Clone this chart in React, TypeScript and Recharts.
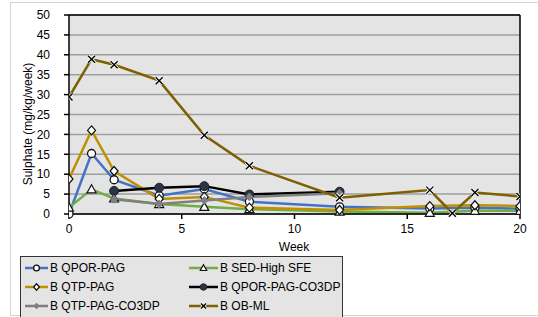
import React from 'react';
import { LineChart, Line, XAxis, YAxis, CartesianGrid, ReferenceLine } from 'recharts';

const weeksMain = [0, 1, 2, 4, 6, 8, 12, 16, 18, 20];
const qporPag = [0, 15.2, 8.6, 4.6, 6.3, 3.1, 1.8, 1.4, 1.6, 1.3];
const qtpPag = [8.8, 21, 10.8, 3.8, 4.3, 1.6, 1.0, 2.0, 2.2, 2.0];
const sedHighSfe = [1.6, 6.2, 3.9, 2.5, 1.8, 1.2, 0.6, 0.3, 0.8, 0.8];
const weeksCo3 = [2, 4, 6, 8, 12];
const qporPagCo3 = [5.8, 6.6, 7.0, 4.9, 5.6];
const qtpPagCo3 = [3.7, 2.5, 3.4, 4.3, 5.2];
const weeksOb = [0, 1, 2, 4, 6, 8, 12, 16, 17, 18, 20];
const obMl = [29.4, 38.9, 37.5, 33.5, 19.8, 12.1, 4.1, 6.0, 0.2, 5.4, 4.4];

const xTicks = [0, 5, 10, 15, 20];
const yTicks = [0, 5, 10, 15, 20, 25, 30, 35, 40, 45, 50];

const toData = (weeks: number[], vals: number[]) => weeks.map((w, i) => ({ week: w, v: vals[i] }));

type MarkerKind = 'circle' | 'diamond' | 'triangle' | 'dot' | 'smallDiamond' | 'x';

const Marker = ({ kind, cx, cy, k = 1 }: { kind: MarkerKind; cx: number; cy: number; k?: number }) => {
  switch (kind) {
    case 'circle':
      return <circle cx={cx} cy={cy} r={4 * k} fill="#fff" stroke="#111" strokeWidth={1.3} />;
    case 'diamond':
      return (
        <polygon
          points={`${cx},${cy - 4.5 * k} ${cx + 4 * k},${cy} ${cx},${cy + 4.5 * k} ${cx - 4 * k},${cy}`}
          fill="#fff"
          stroke="#111"
          strokeWidth={1.2}
        />
      );
    case 'triangle':
      return (
        <polygon
          points={`${cx},${cy - 4.5 * k} ${cx + 4.5 * k},${cy + 3.5 * k} ${cx - 4.5 * k},${cy + 3.5 * k}`}
          fill="#fff"
          stroke="#111"
          strokeWidth={1.2}
        />
      );
    case 'dot':
      return <circle cx={cx} cy={cy} r={4.5 * k} fill="#2a3442" stroke="#1c2430" strokeWidth={1} />;
    case 'smallDiamond':
      return (
        <polygon
          points={`${cx},${cy - 4 * k} ${cx + 3.5 * k},${cy} ${cx},${cy + 4 * k} ${cx - 3.5 * k},${cy}`}
          fill="#808080"
          stroke="#808080"
          strokeWidth={1}
        />
      );
    case 'x': {
      const d = 3.5 * k;
      return (
        <g>
          <line x1={cx - d} y1={cy - d} x2={cx + d} y2={cy + d} stroke="#fff" strokeWidth={3} />
          <line x1={cx - d} y1={cy + d} x2={cx + d} y2={cy - d} stroke="#fff" strokeWidth={3} />
          <line x1={cx - d} y1={cy - d} x2={cx + d} y2={cy + d} stroke="#000" strokeWidth={1.4} />
          <line x1={cx - d} y1={cy + d} x2={cx + d} y2={cy - d} stroke="#000" strokeWidth={1.4} />
        </g>
      );
    }
  }
  return null;
};

const dotFn = (kind: MarkerKind) => (props: any) => (
  <Marker key={`${kind}-${props.index}`} kind={kind} cx={props.cx} cy={props.cy} />
);

const series = [
  { name: 'B QPOR-PAG', color: '#4472c4', kind: 'circle' as MarkerKind, data: toData(weeksMain, qporPag) },
  { name: 'B SED-High SFE', color: '#70ad47', kind: 'triangle' as MarkerKind, data: toData(weeksMain, sedHighSfe) },
  { name: 'B QTP-PAG', color: '#bf9000', kind: 'diamond' as MarkerKind, data: toData(weeksMain, qtpPag) },
  { name: 'B QPOR-PAG-CO3DP', color: '#000000', kind: 'dot' as MarkerKind, data: toData(weeksCo3, qporPagCo3) },
  { name: 'B QTP-PAG-CO3DP', color: '#7f7f7f', kind: 'smallDiamond' as MarkerKind, data: toData(weeksCo3, qtpPagCo3) },
  { name: 'B OB-ML', color: '#7f6000', kind: 'x' as MarkerKind, data: toData(weeksOb, obMl) },
];

const LegendItem = ({ s, w }: { s: (typeof series)[number]; w: number }) => (
  <div style={{ display: 'flex', alignItems: 'center', height: 19 }}>
    <svg width={w} height={12} style={{ marginRight: 2 }}>
      <line x1={0} y1={6} x2={w} y2={6} stroke={s.color} strokeWidth={2.5} />
      <Marker kind={s.kind} cx={w / 2} cy={6} k={0.72} />
    </svg>
    <span>{s.name}</span>
  </div>
);

export default function App() {
  return (
    <div
      style={{
        position: 'fixed',
        left: 0,
        top: 0,
        width: 538,
        height: 317,
        overflow: 'hidden',
        background: '#fff',
        fontFamily: '"Liberation Sans", Arial, sans-serif',
      }}
    >
      <div
        style={{
          position: 'absolute',
          left: 10,
          top: 2,
          width: 600,
          height: 312,
          border: '1px solid #d4d4d4',
        }}
      />
      <LineChart
        width={538}
        height={317}
        margin={{ top: 15, right: 18, left: 0, bottom: 73 }}
        style={{ position: 'absolute', left: 0, top: 0 }}
      >
        <CartesianGrid
          vertical={false}
          fill="#e4e4e4"
          stroke="#9e9e9e"
          strokeWidth={1.5}
          horizontalValues={yTicks}
        />
        <XAxis
          dataKey="week"
          type="number"
          domain={[0, 20]}
          ticks={xTicks}
          height={30}
          tick={{ fill: '#000', fontSize: 12 }}
          tickSize={5}
          tickMargin={5}
          stroke="#000"
          strokeWidth={1.5}
          allowDataOverflow
        />
        <YAxis
          type="number"
          domain={[0, 50]}
          ticks={yTicks}
          width={69}
          tick={{ fill: '#000', fontSize: 12 }}
          tickSize={5}
          tickMargin={14}
          stroke="#000"
          strokeWidth={1.5}
          interval={0}
        />
        <ReferenceLine y={50} stroke="#000" strokeWidth={1.5} />
        <ReferenceLine x={20} stroke="#000" strokeWidth={1.5} />
        {series.map((s) => (
          <Line
            key={s.name}
            data={s.data}
            dataKey="v"
            name={s.name}
            type="linear"
            stroke={s.color}
            strokeWidth={2.5}
            dot={dotFn(s.kind)}
            activeDot={false}
            isAnimationActive={false}
          />
        ))}
      </LineChart>
      <div
        style={{
          position: 'absolute',
          left: 28,
          top: 124,
          transform: 'translate(-50%, -50%) rotate(-90deg)',
          whiteSpace: 'nowrap',
          fontSize: 12,
          color: '#000',
        }}
      >
        Sulphate (mg/kg/week)
      </div>
      <div
        style={{
          position: 'absolute',
          left: 294,
          top: 247,
          transform: 'translate(-50%, -50%)',
          fontSize: 12,
          color: '#000',
        }}
      >
        Week
      </div>
      <div
        style={{
          position: 'absolute',
          left: 20,
          top: 256,
          width: 323,
          height: 80,
          background: '#e4e4e4',
          border: '1.5px solid #333',
          boxSizing: 'border-box',
          fontSize: 12,
          color: '#000',
          paddingTop: 1,
          paddingLeft: 4,
          display: 'grid',
          gridTemplateColumns: '164px 160px',
          gridAutoRows: '19px',
        }}
      >
        {[0, 1, 2, 3, 4, 5].map((i) => (
          <LegendItem key={i} s={series[i]} w={i % 2 === 0 ? 23 : 29} />
        ))}
      </div>
    </div>
  );
}
